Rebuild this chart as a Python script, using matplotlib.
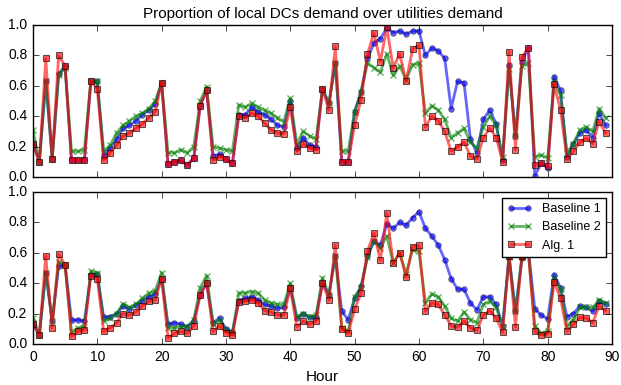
import matplotlib
matplotlib.use("Agg")
import matplotlib.pyplot as plt
import numpy as np

plt.style.use('classic')
plt.rcParams['font.family'] = ['Liberation Sans', 'DejaVu Sans']

hours = list(range(90))

top_baseline1 = [0.22, 0.10, 0.63, 0.12, 0.68, 0.73, 0.11, 0.11, 0.11, 0.63,
                 0.63, 0.14, 0.19, 0.25, 0.32, 0.34, 0.37, 0.41, 0.44, 0.48,
                 0.62, 0.085, 0.10, 0.11, 0.08, 0.125, 0.47, 0.57, 0.14, 0.15,
                 0.12, 0.09, 0.41, 0.41, 0.46, 0.43, 0.41, 0.38, 0.34, 0.33,
                 0.50, 0.19, 0.26, 0.21, 0.20, 0.58, 0.485, 0.75, 0.10, 0.10,
                 0.43, 0.56, 0.78, 0.88, 0.91, 0.98, 0.95, 0.96, 0.94, 0.96,
                 0.96, 0.80, 0.85, 0.83, 0.78, 0.45, 0.63, 0.62, 0.25, 0.16,
                 0.38, 0.44, 0.35, 0.11, 0.74, 0.27, 0.76, 0.85, 0.01, 0.09,
                 0.06, 0.66, 0.57, 0.135, 0.22, 0.29, 0.31, 0.26, 0.42, 0.34]
top_baseline2 = [0.31, 0.10, 0.63, 0.12, 0.67, 0.72, 0.17, 0.17, 0.18, 0.63,
                 0.63, 0.17, 0.21, 0.29, 0.34, 0.37, 0.40, 0.42, 0.45, 0.50,
                 0.62, 0.16, 0.16, 0.18, 0.16, 0.20, 0.50, 0.595, 0.20, 0.19,
                 0.18, 0.17, 0.475, 0.46, 0.485, 0.46, 0.44, 0.42, 0.39, 0.365,
                 0.52, 0.22, 0.30, 0.27, 0.25, 0.58, 0.485, 0.75, 0.17, 0.17,
                 0.43, 0.56, 0.75, 0.72, 0.69, 0.81, 0.67, 0.73, 0.64, 0.74,
                 0.75, 0.42, 0.47, 0.44, 0.38, 0.26, 0.29, 0.32, 0.23, 0.19,
                 0.33, 0.40, 0.34, 0.135, 0.71, 0.27, 0.73, 0.75, 0.135, 0.145,
                 0.125, 0.63, 0.54, 0.16, 0.22, 0.31, 0.33, 0.30, 0.45, 0.39]
top_alg1 = [0.22, 0.10, 0.78, 0.12, 0.80, 0.73, 0.11, 0.11, 0.11, 0.63,
            0.58, 0.11, 0.16, 0.21, 0.27, 0.29, 0.32, 0.35, 0.39, 0.43,
            0.62, 0.085, 0.10, 0.11, 0.08, 0.125, 0.47, 0.57, 0.11, 0.135,
            0.12, 0.09, 0.40, 0.39, 0.42, 0.40, 0.355, 0.31, 0.29, 0.285,
            0.46, 0.17, 0.22, 0.19, 0.18, 0.58, 0.44, 0.86, 0.10, 0.10,
            0.34, 0.51, 0.81, 0.95, 0.76, 0.985, 0.72, 0.81, 0.63, 0.84,
            0.87, 0.33, 0.40, 0.37, 0.30, 0.17, 0.20, 0.23, 0.14, 0.12,
            0.26, 0.32, 0.26, 0.10, 0.825, 0.18, 0.79, 0.85, 0.077, 0.09,
            0.07, 0.61, 0.44, 0.12, 0.17, 0.23, 0.255, 0.22, 0.365, 0.29]

bot_baseline1 = [0.13, 0.06, 0.47, 0.15, 0.51, 0.52, 0.155, 0.16, 0.15, 0.455,
                 0.46, 0.175, 0.18, 0.20, 0.25, 0.23, 0.255, 0.285, 0.31, 0.33,
                 0.43, 0.13, 0.14, 0.13, 0.115, 0.15, 0.325, 0.40, 0.14, 0.17,
                 0.10, 0.08, 0.285, 0.30, 0.31, 0.29, 0.26, 0.25, 0.235, 0.24,
                 0.37, 0.17, 0.20, 0.175, 0.18, 0.40, 0.325, 0.58, 0.215, 0.16,
                 0.30, 0.38, 0.58, 0.675, 0.65, 0.79, 0.76, 0.80, 0.78, 0.83,
                 0.87, 0.76, 0.71, 0.65, 0.555, 0.43, 0.36, 0.36, 0.27, 0.225,
                 0.31, 0.31, 0.26, 0.12, 0.58, 0.215, 0.565, 0.62, 0.23, 0.19,
                 0.165, 0.455, 0.37, 0.18, 0.20, 0.25, 0.24, 0.215, 0.28, 0.265]
bot_baseline2 = [0.17, 0.06, 0.47, 0.15, 0.54, 0.52, 0.08, 0.105, 0.115, 0.48,
                 0.47, 0.15, 0.17, 0.20, 0.265, 0.24, 0.26, 0.30, 0.335, 0.35,
                 0.47, 0.105, 0.105, 0.115, 0.115, 0.16, 0.37, 0.45, 0.13, 0.16,
                 0.09, 0.07, 0.335, 0.335, 0.345, 0.335, 0.29, 0.27, 0.26, 0.26,
                 0.40, 0.18, 0.20, 0.18, 0.19, 0.435, 0.325, 0.58, 0.105, 0.083,
                 0.31, 0.37, 0.57, 0.68, 0.63, 0.71, 0.53, 0.60, 0.46, 0.62,
                 0.61, 0.27, 0.33, 0.31, 0.25, 0.17, 0.15, 0.21, 0.16, 0.14,
                 0.26, 0.28, 0.24, 0.115, 0.57, 0.215, 0.57, 0.60, 0.12, 0.07,
                 0.083, 0.435, 0.36, 0.12, 0.16, 0.24, 0.24, 0.24, 0.29, 0.27]
bot_alg1 = [0.13, 0.06, 0.58, 0.105, 0.59, 0.52, 0.05, 0.083, 0.09, 0.45,
            0.43, 0.083, 0.105, 0.14, 0.20, 0.19, 0.21, 0.25, 0.28, 0.29,
            0.43, 0.04, 0.07, 0.083, 0.07, 0.12, 0.325, 0.40, 0.083, 0.12,
            0.075, 0.057, 0.275, 0.28, 0.29, 0.27, 0.22, 0.21, 0.19, 0.19,
            0.37, 0.115, 0.15, 0.13, 0.15, 0.40, 0.29, 0.65, 0.10, 0.07,
            0.23, 0.335, 0.61, 0.73, 0.55, 0.86, 0.53, 0.60, 0.44, 0.64,
            0.65, 0.215, 0.27, 0.26, 0.19, 0.12, 0.11, 0.15, 0.105, 0.09,
            0.19, 0.22, 0.17, 0.077, 0.58, 0.11, 0.58, 0.61, 0.083, 0.06,
            0.066, 0.41, 0.30, 0.083, 0.13, 0.175, 0.17, 0.14, 0.25, 0.22]

series_labels = ['Baseline 1', 'Baseline 2', 'Alg. 1']
y_ticks = [0.0, 0.2, 0.4, 0.6, 0.8, 1.0]
x_ticks = list(range(0, 91, 10))

fig = plt.figure(figsize=(6.21, 3.85), dpi=100, facecolor='white')
ax1 = fig.add_axes([0.053, 0.540, 0.9325, 0.395])
ax2 = fig.add_axes([0.053, 0.1065, 0.9325, 0.395])

def draw(ax, b1, b2, a1):
    ax.plot(hours, b1, 'b-o', alpha=0.6, lw=2, ms=4, mec='k', mew=0.5, label=series_labels[0])
    ax.plot(hours, b2, 'g-x', alpha=0.6, lw=2, ms=4, mec='g', mew=1, label=series_labels[1])
    ax.plot(hours, a1, 'r-s', alpha=0.6, lw=2, ms=4.3, mec='k', mew=0.8, label=series_labels[2])
    ax.set_xlim(0, 90)
    ax.set_ylim(0, 1.0)
    ax.set_yticks(y_ticks)
    ax.set_xticks(x_ticks)
    ax.tick_params(labelsize=10)

draw(ax1, top_baseline1, top_baseline2, top_alg1)
draw(ax2, bot_baseline1, bot_baseline2, bot_alg1)
ax1.set_xticklabels([])
ax1.set_title('Proportion of local DCs demand over utilities demand', fontsize=11)
ax2.set_xlabel('Hour', fontsize=11)
ax2.legend(loc='upper right', fontsize=9, numpoints=2)

fig.savefig('out.png', dpi=100, facecolor='white')
